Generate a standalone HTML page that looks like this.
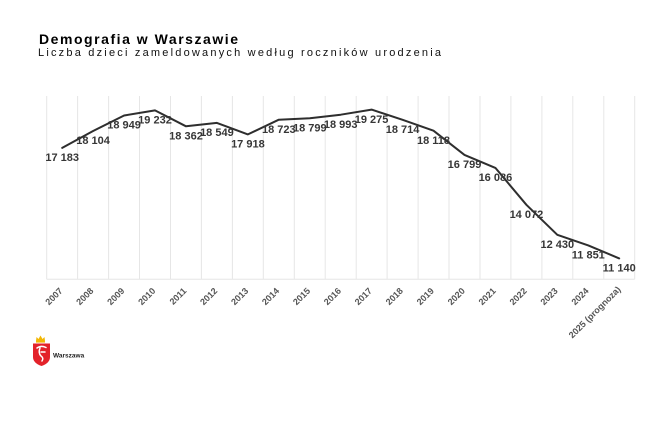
<!DOCTYPE html>
<html>
<head>
<meta charset="utf-8">
<style>
html,body{margin:0;padding:0;background:#fff;}
svg{display:block;}
text{font-family:"Liberation Sans",Arial,sans-serif;}
</style>
</head>
<body>
<svg width="663" height="442" viewBox="0 0 663 442" xmlns="http://www.w3.org/2000/svg">
<rect width="663" height="442" fill="#fff"/>
<!-- Title -->
<text x="39" y="44" font-size="14" font-weight="bold" fill="#000" textLength="199" lengthAdjust="spacing">Demografia w Warszawie</text>
<text x="38" y="56" font-size="11" fill="#111" textLength="403" lengthAdjust="spacing">Liczba dzieci zameldowanych według roczników urodzenia</text>

<!-- grid -->
<g stroke="#e6e6e6" stroke-width="1">
<line x1="46.7" y1="96" x2="46.7" y2="279.3"/>
<line x1="77.6" y1="96" x2="77.6" y2="279.3"/>
<line x1="108.6" y1="96" x2="108.6" y2="279.3"/>
<line x1="139.5" y1="96" x2="139.5" y2="279.3"/>
<line x1="170.5" y1="96" x2="170.5" y2="279.3"/>
<line x1="201.4" y1="96" x2="201.4" y2="279.3"/>
<line x1="232.4" y1="96" x2="232.4" y2="279.3"/>
<line x1="263.3" y1="96" x2="263.3" y2="279.3"/>
<line x1="294.3" y1="96" x2="294.3" y2="279.3"/>
<line x1="325.2" y1="96" x2="325.2" y2="279.3"/>
<line x1="356.2" y1="96" x2="356.2" y2="279.3"/>
<line x1="387.1" y1="96" x2="387.1" y2="279.3"/>
<line x1="418.1" y1="96" x2="418.1" y2="279.3"/>
<line x1="449.0" y1="96" x2="449.0" y2="279.3"/>
<line x1="480.0" y1="96" x2="480.0" y2="279.3"/>
<line x1="510.9" y1="96" x2="510.9" y2="279.3"/>
<line x1="541.9" y1="96" x2="541.9" y2="279.3"/>
<line x1="572.8" y1="96" x2="572.8" y2="279.3"/>
<line x1="603.8" y1="96" x2="603.8" y2="279.3"/>
<line x1="634.7" y1="96" x2="634.7" y2="279.3"/>
<line x1="46.7" y1="279.3" x2="634.7" y2="279.3"/>
</g>

<!-- series line -->
<polyline fill="none" stroke="#2e2e2e" stroke-width="2" stroke-linejoin="round" stroke-linecap="round"
points="62.2,147.9 93.1,131.0 124.1,115.5 155.0,110.4 186.0,126.3 216.9,122.9 247.9,134.4 278.8,119.7 309.8,118.3 340.7,114.7 371.6,109.6 402.6,119.8 433.5,130.7 464.5,154.9 495.4,167.9 526.4,204.8 557.3,234.8 588.3,245.4 619.2,258.4"/>

<!-- data labels -->
<g font-size="11" font-weight="bold" fill="#363636" text-anchor="middle">
<text x="62.2" y="161">17 183</text>
<text x="93.1" y="144">18 104</text>
<text x="124.1" y="128.5">18 949</text>
<text x="155.0" y="123.5">19 232</text>
<text x="186.0" y="139.5">18 362</text>
<text x="216.9" y="136">18 549</text>
<text x="247.9" y="147.5">17 918</text>
<text x="278.8" y="133">18 723</text>
<text x="309.8" y="131.5">18 799</text>
<text x="340.7" y="128">18 993</text>
<text x="371.6" y="123">19 275</text>
<text x="402.6" y="133">18 714</text>
<text x="433.5" y="144">18 118</text>
<text x="464.5" y="168">16 799</text>
<text x="495.4" y="181">16 086</text>
<text x="526.4" y="218">14 072</text>
<text x="557.3" y="248">12 430</text>
<text x="588.3" y="258.5">11 851</text>
<text x="619.2" y="271.5">11 140</text>
</g>

<!-- x labels -->
<g font-size="9" font-weight="bold" fill="#555" text-anchor="end">
<text transform="translate(63.2,291.5) rotate(-45)">2007</text>
<text transform="translate(94.1,291.5) rotate(-45)">2008</text>
<text transform="translate(125.1,291.5) rotate(-45)">2009</text>
<text transform="translate(156.0,291.5) rotate(-45)">2010</text>
<text transform="translate(187.0,291.5) rotate(-45)">2011</text>
<text transform="translate(217.9,291.5) rotate(-45)">2012</text>
<text transform="translate(248.9,291.5) rotate(-45)">2013</text>
<text transform="translate(279.8,291.5) rotate(-45)">2014</text>
<text transform="translate(310.8,291.5) rotate(-45)">2015</text>
<text transform="translate(341.7,291.5) rotate(-45)">2016</text>
<text transform="translate(372.6,291.5) rotate(-45)">2017</text>
<text transform="translate(403.6,291.5) rotate(-45)">2018</text>
<text transform="translate(434.5,291.5) rotate(-45)">2019</text>
<text transform="translate(465.5,291.5) rotate(-45)">2020</text>
<text transform="translate(496.4,291.5) rotate(-45)">2021</text>
<text transform="translate(527.4,291.5) rotate(-45)">2022</text>
<text transform="translate(558.3,291.5) rotate(-45)">2023</text>
<text transform="translate(589.3,291.5) rotate(-45)">2024</text>
<text transform="translate(621.2,290) rotate(-45)">2025 (prognoza)</text>
</g>

<!-- logo -->
<g>
<path d="M36,341 L36.5,337 L38.5,339 L40.5,335.5 L42.5,339 L44.5,337 L45,341 Z" fill="#f2b705"/>
<rect x="36" y="341" width="9" height="1.6" fill="#f2b705"/>
<path d="M33,343.5 H50 V357 Q50,363 41.5,366 Q33,363 33,357 Z" fill="#e3222a"/>
<path d="M37,348 Q41,345 46,347.5 M40,348 Q38,353 41,356 Q44,358 42,361 M41,352 H45" fill="none" stroke="#fff" stroke-width="1.5" stroke-linecap="round"/>
<text x="53" y="357.5" font-size="6.5" font-weight="bold" fill="#222">Warszawa</text>
</g>
</svg>
</body>
</html>
